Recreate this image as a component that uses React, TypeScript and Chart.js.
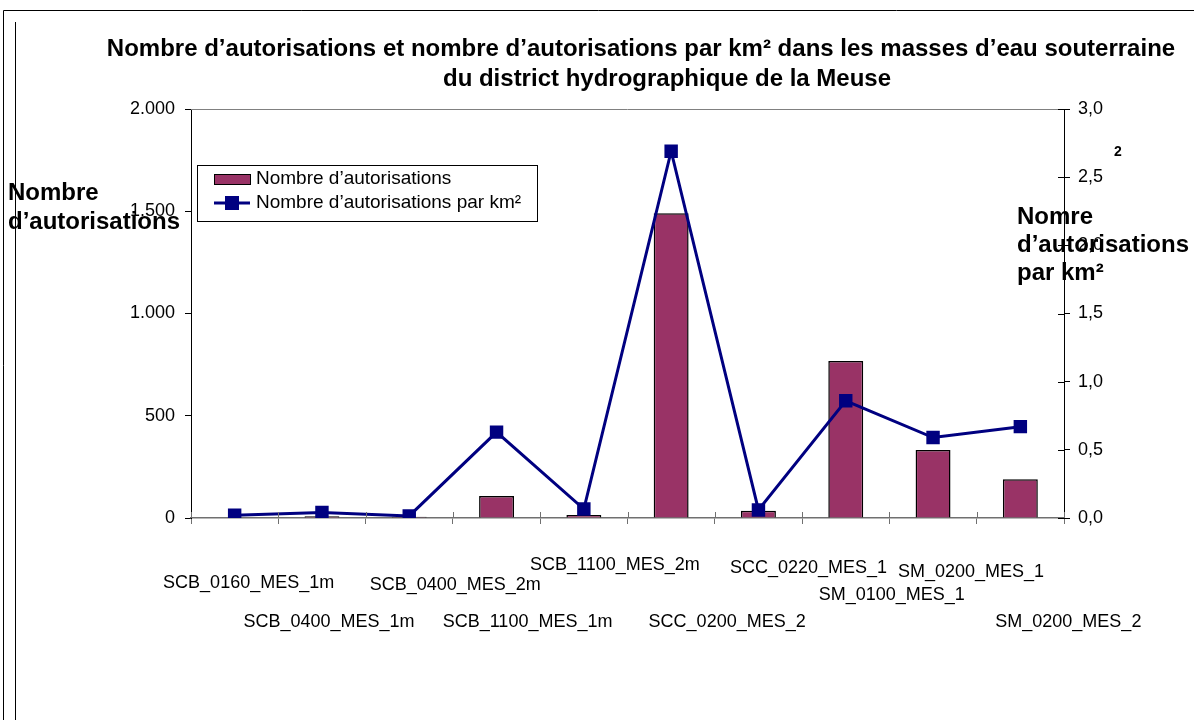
import React, { useEffect, useRef } from "react";
import { Chart, registerables } from "chart.js";

Chart.register(...registerables);

// ---- data ----
const categories = [
  "SCB_0160_MES_1m",
  "SCB_0400_MES_1m",
  "SCB_0400_MES_2m",
  "SCB_1100_MES_1m",
  "SCB_1100_MES_2m",
  "SCC_0200_MES_2",
  "SCC_0220_MES_1",
  "SM_0100_MES_1",
  "SM_0200_MES_1",
  "SM_0200_MES_2",
];
const nombreAutorisations = [3, 8, 6, 107, 15, 1490, 36, 768, 333, 189];
const autorisationsParKm2 = [0.02, 0.04, 0.015, 0.63, 0.066, 2.69, 0.059, 0.86, 0.59, 0.67];
const leftTickValues = [0, 500, 1000, 1500, 2000];
const leftTickLabels = ["0", "500", "1.000", "1.500", "2.000"];
const rightTickValues = [0, 0.5, 1, 1.5, 2, 2.5, 3];
const rightTickLabels = ["0,0", "0,5", "1,0", "1,5", "2,0", "2,5", "3,0"];
const seriesLabels = ["Nombre d’autorisations", "Nombre d’autorisations par km²"];
const titleLines = [
  "Nombre d’autorisations et nombre d’autorisations par km² dans les masses d’eau souterraine",
  "du district hydrographique de la Meuse",
];
const leftAxisTitle = ["Nombre", "d’autorisations"];
const rightAxisTitle = ["Nomre", "d’autorisations", "par km²"];

// ---- layout / style ----
const W = 1194;
const H = 720;
const FONT = "'Liberation Sans', Arial, sans-serif";
const BAR_COLOR = "#993366";
const LINE_COLOR = "#000080";
const AREA = { left: 191, right: 1064, top: 109, bottom: 518 };
// staggered category label placement: [dx from category centre, y centre]
const CAT_LABEL_POS: [number, number][] = [
  [14, 583],
  [7, 622],
  [46, 585],
  [31, 622],
  [31, 565],
  [56, 622],
  [50, 568],
  [46, 595],
  [38, 572],
  [48, 622],
];

const decorPlugin = {
  id: "decor",
  beforeDatasetsDraw(chart: any) {
    const ctx = chart.ctx;
    const a = chart.chartArea;
    ctx.save();
    ctx.strokeStyle = "#808080";
    ctx.lineWidth = 1;
    ctx.beginPath();
    ctx.moveTo(a.left, a.top + 0.5);
    ctx.lineTo(a.right, a.top + 0.5);
    ctx.stroke();
    ctx.restore();
  },
  afterDraw(chart: any) {
    const ctx = chart.ctx;
    const a = chart.chartArea;
    const x = chart.scales.x;
    const yr = chart.scales.y1;
    ctx.save();

    // inward halves of crossing tick marks
    ctx.lineWidth = 1;
    ctx.strokeStyle = "#707070";
    const n = categories.length;
    const step = (a.right - a.left) / n;
    ctx.beginPath();
    for (let i = 0; i <= n; i++) {
      const px = Math.round(a.left + i * step) + 0.5;
      ctx.moveTo(px, a.bottom);
      ctx.lineTo(px, a.bottom - 6);
    }
    ctx.stroke();
    ctx.strokeStyle = "#000";
    ctx.beginPath();
    rightTickValues.forEach((v) => {
      const py = Math.round(yr.getPixelForValue(v)) + 0.5;
      ctx.moveTo(a.right, py);
      ctx.lineTo(a.right - 6, py);
    });
    ctx.stroke();

    // category labels
    ctx.fillStyle = "#000";
    ctx.font = `18px ${FONT}`;
    ctx.textAlign = "center";
    ctx.textBaseline = "middle";
    categories.forEach((c, i) => {
      const cx = x.getPixelForValue(i) + CAT_LABEL_POS[i][0];
      ctx.fillText(c, cx, CAT_LABEL_POS[i][1]);
    });

    // title
    ctx.font = `bold 24px ${FONT}`;
    ctx.fillText(titleLines[0], 641, 49);
    ctx.fillText(titleLines[1], 667, 79);

    // axis titles
    ctx.font = `bold 24px ${FONT}`;
    ctx.textAlign = "left";
    leftAxisTitle.forEach((t, i) => ctx.fillText(t, 8, 193 + i * 29));
    rightAxisTitle.forEach((t, i) => ctx.fillText(t, 1017, 217 + i * 28));
    ctx.font = `bold 14px ${FONT}`;
    ctx.fillText("2", 1114, 152);

    // legend
    const lx = 197, ly = 165, lw = 340, lh = 56;
    ctx.fillStyle = "#fff";
    ctx.fillRect(lx, ly, lw, lh);
    ctx.strokeStyle = "#000";
    ctx.lineWidth = 1;
    ctx.strokeRect(lx + 0.5, ly + 0.5, lw, lh);
    ctx.fillStyle = BAR_COLOR;
    ctx.fillRect(214, 174, 36, 10);
    ctx.strokeRect(214.5, 174.5, 36, 10);
    ctx.strokeStyle = LINE_COLOR;
    ctx.lineWidth = 3;
    ctx.beginPath();
    ctx.moveTo(214, 203);
    ctx.lineTo(250, 203);
    ctx.stroke();
    ctx.fillStyle = LINE_COLOR;
    ctx.fillRect(225, 196, 14, 14);
    ctx.fillStyle = "#000";
    ctx.font = `19px ${FONT}`;
    ctx.fillText(seriesLabels[0], 256, 179);
    ctx.fillText(seriesLabels[1], 256, 203);

    // outer frame
    ctx.strokeStyle = "#000";
    ctx.lineWidth = 1;
    ctx.beginPath();
    ctx.moveTo(3.5, H);
    ctx.lineTo(3.5, 10.5);
    ctx.lineTo(W, 10.5);
    ctx.moveTo(15.5, 22);
    ctx.lineTo(15.5, H);
    ctx.stroke();
    ctx.restore();
  },
};

export default function App() {
  const ref = useRef<HTMLCanvasElement | null>(null);
  useEffect(() => {
    if (!ref.current) return;
    const chart = new Chart(ref.current, {
      type: "bar",
      data: {
        labels: categories,
        datasets: [
          {
            type: "line",
            label: seriesLabels[1],
            data: autorisationsParKm2,
            yAxisID: "y1",
            borderColor: LINE_COLOR,
            borderWidth: 3,
            pointStyle: "rect",
            pointRadius: 9.5,
            pointBackgroundColor: LINE_COLOR,
            pointBorderColor: LINE_COLOR,
            pointBorderWidth: 0,
            tension: 0,
            order: 0,
          } as any,
          {
            type: "bar",
            label: seriesLabels[0],
            data: nombreAutorisations,
            yAxisID: "y",
            backgroundColor: BAR_COLOR,
            borderColor: "#000",
            borderWidth: 1.5,
            barPercentage: 0.4,
            categoryPercentage: 1,
            order: 1,
          },
        ],
      },
      options: {
        responsive: false,
        animation: false,
        layout: { padding: { top: AREA.top, left: 0, right: 0, bottom: 0 } },
        plugins: {
          legend: { display: false },
          title: { display: false },
          tooltip: { enabled: false },
        },
        scales: {
          x: {
            offset: true,
            grid: {
              display: true,
              offset: true,
              drawOnChartArea: false,
              drawTicks: true,
              tickLength: 6,
              color: "#707070",
            },
            border: { display: true, color: "#707070", width: 1.5 },
            ticks: { display: false },
            afterFit: (s: any) => {
              s.height = H - AREA.bottom;
            },
          },
          y: {
            position: "left",
            min: 0,
            max: 2000,
            afterBuildTicks: (s: any) => {
              s.ticks = leftTickValues.map((v) => ({ value: v }));
            },
            grid: { drawOnChartArea: false, tickLength: 6, color: "#000" },
            border: { display: true, color: "#000", width: 1 },
            ticks: {
              padding: 10,
              color: "#000",
              font: { family: FONT, size: 18 },
              callback: (v: any) => leftTickLabels[leftTickValues.indexOf(Number(v))] ?? "",
            },
            afterFit: (s: any) => {
              s.width = AREA.left;
            },
          },
          y1: {
            position: "right",
            min: 0,
            max: 3,
            afterBuildTicks: (s: any) => {
              s.ticks = rightTickValues.map((v) => ({ value: v }));
            },
            grid: { drawOnChartArea: false, tickLength: 6, color: "#000" },
            border: { display: true, color: "#000", width: 1 },
            ticks: {
              padding: 8,
              color: "#000",
              font: { family: FONT, size: 18 },
              callback: (v: any) => rightTickLabels[rightTickValues.indexOf(Number(v))] ?? "",
            },
            afterFit: (s: any) => {
              s.width = W - AREA.right;
            },
          },
        },
      },
      plugins: [decorPlugin],
    });
    return () => chart.destroy();
  }, []);

  return (
    <div style={{ position: "absolute", left: 0, top: 0, width: W, height: H, background: "#fff" }}>
      <canvas ref={ref} width={W} height={H} style={{ display: "block" }} />
    </div>
  );
}
